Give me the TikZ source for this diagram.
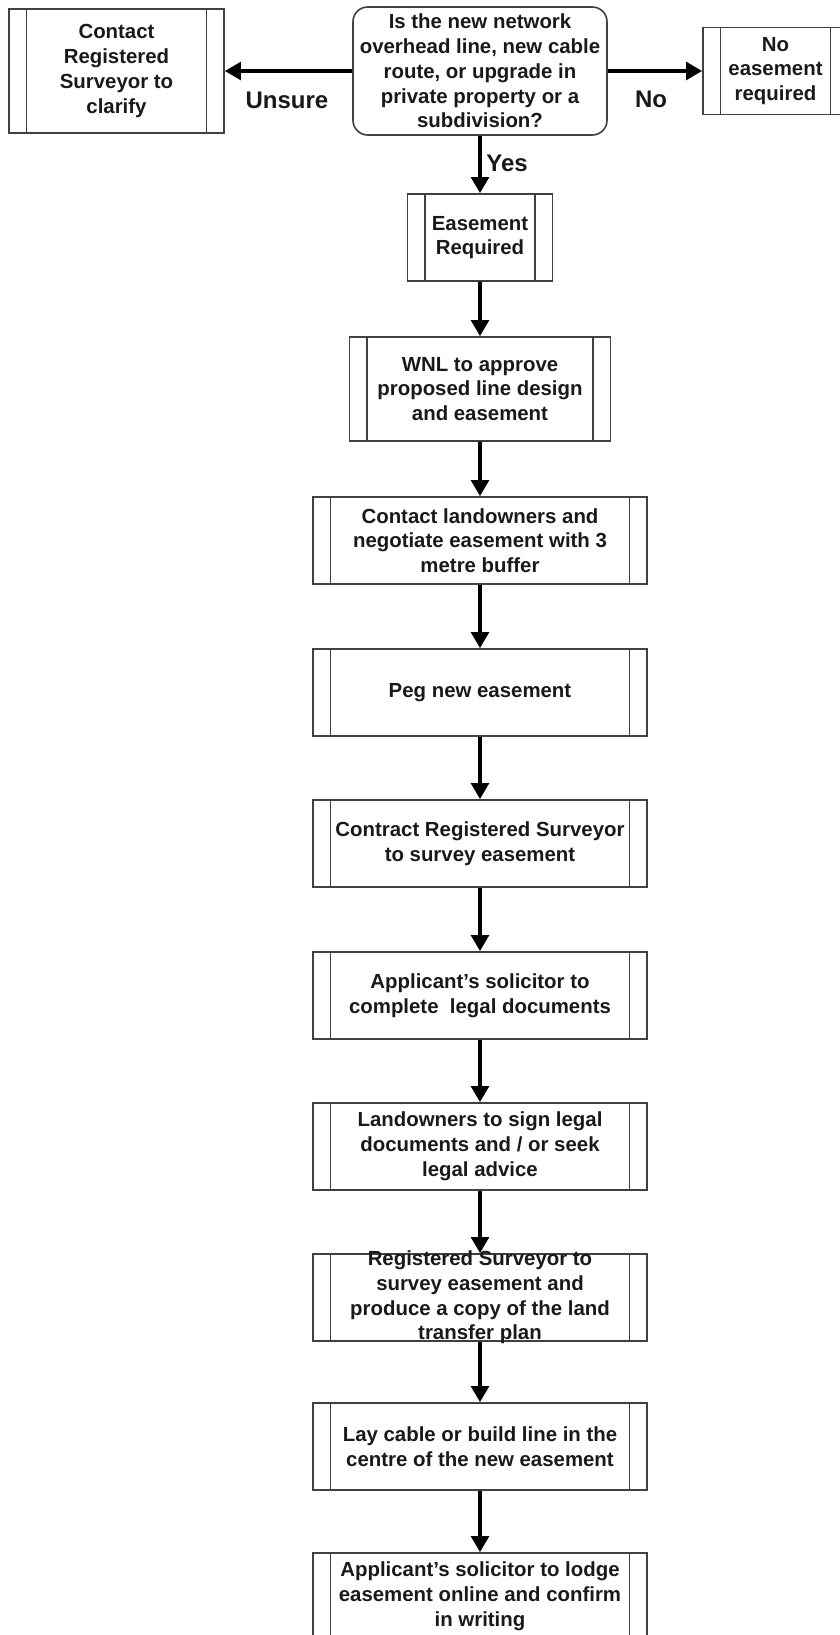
\documentclass[tikz,border=0pt]{standalone}
\usepackage{fontspec}
\setmainfont{Liberation Sans}
\usetikzlibrary{arrows.meta}

\definecolor{boxline}{rgb}{0.25,0.25,0.25}
\definecolor{boxtext}{rgb}{0.1,0.1,0.1}

\begin{document}
\begin{tikzpicture}[x=0.75pt, y=-0.75pt,
        every node/.style={font=\bfseries\fontsize{15.3}{18.6}\selectfont, text=boxtext, align=center},
        procbox/.style={draw=boxline, line width=1.2pt, inner sep=0pt,
            minimum width=250.5pt, minimum height=65.25pt,
            path picture={
                \draw[boxline, line width=1.2pt]
                    ([xshift=13pt]path picture bounding box.north west) -- ([xshift=13pt]path picture bounding box.south west)
                    ([xshift=-13pt]path picture bounding box.north east) -- ([xshift=-13pt]path picture bounding box.south east);
            }},
        decision/.style={draw=boxline, line width=1.2pt, rounded corners=11pt, inner sep=0pt,
            minimum width=190.5pt, minimum height=96pt},
        answer/.style={font=\bfseries\fontsize{18}{21}\selectfont},
        flow/.style={line width=3pt, -{Triangle[length=12pt,width=13pt]}}]

        \useasboundingbox (0,0) rectangle (839,1635);

        % top row
        \node[decision] (question) at (480,71) {Is the new network\\overhead line, new cable\\route, or upgrade in\\private property or a\\subdivision?};
        \node[procbox, minimum width=161.25pt, minimum height=93pt] (unsure) at (116.5,71) {Contact\\Registered\\Surveyor to\\clarify};
        \node[procbox, minimum width=108.75pt] (noeasement) at (775.5,71) {No\\easement\\required};

        % main column
        \node[procbox, minimum width=108.75pt] (required) at (480,237.5) {Easement\\Required};
        \node[procbox, minimum width=195.75pt, minimum height=78pt] (approve) at (480,389) {WNL to approve\\proposed line design\\and easement};
        \node[procbox] (negotiate) at (480,540.5) {Contact landowners and\\negotiate easement with 3\\metre buffer};
        \node[procbox] (peg) at (480,692.5) {Peg new easement};
        \node[procbox] (contract) at (480,843.5) {Contract Registered Surveyor\\to survey easement};
        \node[procbox] (complete) at (480,995.5) {Applicant’s solicitor to\\complete\ \ legal documents};
        \node[procbox] (sign) at (480,1146.5) {Landowners to sign legal\\documents and / or seek\\legal advice};
        \node[procbox, label={center:{Registered Surveyor to\\survey easement and\\produce a copy of the land\\transfer plan}}] (survey) at (480,1297.5) {};
        \node[procbox] (build) at (480,1446.5) {Lay cable or build line in the\\centre of the new easement};
        \node[procbox] (lodge) at (480,1596.5) {Applicant’s solicitor to lodge\\easement online and confirm\\in writing};

        % answers
        \node[answer] (unsurelabel) at (287,100) {Unsure};
        \node[answer] (nolabel) at (651,99) {No};
        \node[answer] (yeslabel) at (507,163) {Yes};

        \draw[flow] (question) -- (unsure);
        \draw[flow] (question) -- (noeasement);
        \draw[flow] (question) -- (required);
        \draw[flow] (required) -- (approve);
        \draw[flow] (approve) -- (negotiate);
        \draw[flow] (negotiate) -- (peg);
        \draw[flow] (peg) -- (contract);
        \draw[flow] (contract) -- (complete);
        \draw[flow] (complete) -- (sign);
        \draw[flow] (sign) -- (survey);
        \draw[flow] (survey) -- (build);
        \draw[flow] (build) -- (lodge);
    \end{tikzpicture}
\end{document}
